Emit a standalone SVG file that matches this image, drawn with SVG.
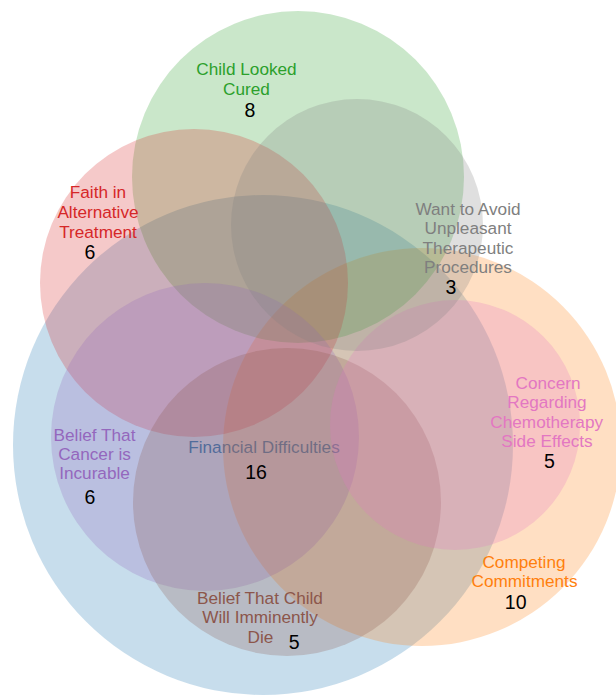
<svg xmlns="http://www.w3.org/2000/svg" width="616" height="696" viewBox="0 0 616 696">
<style>
  circle { fill-opacity: 0.25; stroke: none; }
  .lbl { font-family: "Liberation Sans", Arial, sans-serif; font-size: 17.2px; text-anchor: middle; }
  .num { font-family: "Liberation Sans", Arial, sans-serif; font-size: 19.5px; text-anchor: middle; fill: #000; }
</style>
<rect width="616" height="696" fill="#ffffff"/>
<g id="nodes">
  <g id="financial-difficulties">
    <circle cx="263" cy="445" r="250" fill="#1f77b4"/>
    <text class="lbl" fill="#1f77b4" x="264" y="453.3">Financial Difficulties</text>
  </g>
  <g id="competing-commitments">
    <circle cx="422" cy="447" r="199" fill="#ff7f0e"/>
    <text class="lbl" fill="#ff7f0e" x="524" y="567.6">Competing</text>
    <text class="lbl" fill="#ff7f0e" x="524.5" y="586.7">Commitments</text>
  </g>
  <g id="child-looked-cured">
    <circle cx="298" cy="177" r="166" fill="#2ca02c"/>
    <text class="lbl" fill="#2ca02c" x="246.5" y="75.3">Child Looked</text>
    <text class="lbl" fill="#2ca02c" x="246.5" y="94.5">Cured</text>
  </g>
  <g id="faith-in-alternative-treatment">
    <circle cx="194" cy="283" r="154" fill="#d62728"/>
    <text class="lbl" fill="#d62728" x="98" y="197.7">Faith in</text>
    <text class="lbl" fill="#d62728" x="98" y="217.5">Alternative</text>
    <text class="lbl" fill="#d62728" x="98" y="237.5">Treatment</text>
  </g>
  <g id="belief-cancer-incurable">
    <circle cx="205" cy="437" r="154" fill="#9467bd"/>
    <text class="lbl" fill="#9467bd" x="94.5" y="440.7">Belief That</text>
    <text class="lbl" fill="#9467bd" x="94.5" y="460">Cancer is</text>
    <text class="lbl" fill="#9467bd" x="94.5" y="479.3">Incurable</text>
  </g>
  <g id="belief-child-will-die">
    <circle cx="287" cy="502" r="154" fill="#8c564b"/>
    <text class="lbl" fill="#8c564b" x="260" y="604.3">Belief That Child</text>
    <text class="lbl" fill="#8c564b" x="260" y="623.3">Will Imminently</text>
    <text class="lbl" fill="#8c564b" x="260.5" y="642.7">Die</text>
  </g>
  <g id="concern-chemotherapy">
    <circle cx="455" cy="425" r="125" fill="#e377c2"/>
    <text class="lbl" fill="#e377c2" x="548" y="389">Concern</text>
    <text class="lbl" fill="#e377c2" x="547" y="408.3">Regarding</text>
    <text class="lbl" fill="#e377c2" x="546.7" y="427.7">Chemotherapy</text>
    <text class="lbl" fill="#e377c2" x="547" y="446.7">Side Effects</text>
  </g>
  <g id="avoid-unpleasant-procedures">
    <circle cx="357" cy="225" r="126" fill="#7f7f7f"/>
    <text class="lbl" fill="#7f7f7f" x="468" y="215">Want to Avoid</text>
    <text class="lbl" fill="#7f7f7f" x="468" y="234.3">Unpleasant</text>
    <text class="lbl" fill="#7f7f7f" x="468" y="253.5">Therapeutic</text>
    <text class="lbl" fill="#7f7f7f" x="468" y="272.7">Procedures</text>
  </g>
</g>
<g id="connectors"></g>
<g id="counts">
  <text class="num" x="250" y="116.7">8</text>
  <text class="num" x="90" y="259.3">6</text>
  <text class="num" x="451" y="294.3">3</text>
  <text class="num" x="549.5" y="468.3">5</text>
  <text class="num" x="90" y="504.3">6</text>
  <text class="num" x="256" y="479.3">16</text>
  <text class="num" x="515.7" y="609.3">10</text>
  <text class="num" x="294.3" y="649">5</text>
</g>
</svg>
